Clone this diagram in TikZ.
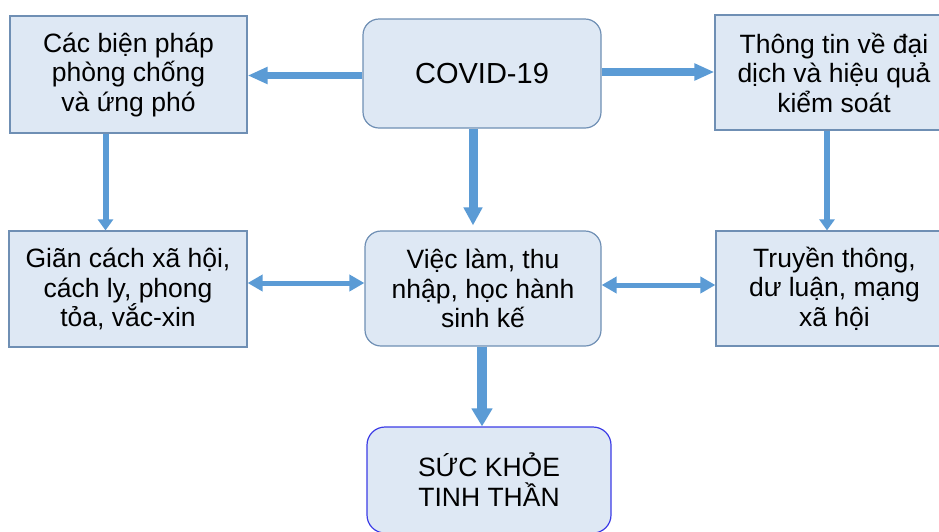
\documentclass[tikz,border=0pt]{standalone}
\usepackage{fontspec}
\setmainfont{Liberation Sans}
\usetikzlibrary{arrows.meta}
\definecolor{boxfill}{HTML}{DEE8F4}
\definecolor{boxline}{HTML}{6F8FB4}
\definecolor{arrowblue}{HTML}{5B9BD5}
\definecolor{botline}{HTML}{3C3CE6}
\begin{document}
\begin{tikzpicture}[x=1pt,y=-1pt,
  box/.style={draw=boxline,fill=boxfill,line width=1.2pt,inner sep=0pt,align=center,
    font=\fontsize{26.5}{29.5}\selectfont},
  rbox/.style={box,rounded corners=16pt},
  bigarrow/.style={draw=arrowblue,line width=7.5pt,-{Triangle[width=16pt,length=20pt]}},
  midarrow/.style={draw=arrowblue,line width=6pt,-{Triangle[width=15pt,length=11pt]}},
  twoarrow/.style={draw=arrowblue,line width=5pt,{Triangle[width=16pt,length=15pt]}-{Triangle[width=16pt,length=15pt]}}]
\useasboundingbox (0,0) rectangle (939,531);
\clip (0,0) rectangle (939,531);
\node[box,minimum width=237pt,minimum height=117pt] (tl) at (128.5,74.5)
  {Các biện pháp\\phòng chống\\và ứng phó};
\node[rbox,minimum width=238pt,minimum height=109pt,font=\fontsize{29}{34}\selectfont] (covid) at (482,73.5)
  {COVID-19};
\node[box,minimum width=238pt,minimum height=115pt] (tr) at (834,72.5)
  {Thông tin về đại\\dịch và hiệu quả\\kiểm soát};
\node[box,minimum width=238pt,minimum height=116pt] (ml) at (128,289)
  {Giãn cách xã hội,\\cách ly, phong\\tỏa, vắc-xin};
\node[rbox,minimum width=236pt,minimum height=115pt] (mc) at (483,288.5)
  {Việc làm, thu\\nhập, học hành\\sinh kế};
\node[box,minimum width=237pt,minimum height=115pt] (mr) at (834.5,288.5)
  {Truyền thông,\\dư luận, mạng\\xã hội};
\node[rbox,draw=botline,rounded corners=18pt,minimum width=244pt,minimum height=106pt,
  font=\fontsize{26.5}{30}\selectfont] (bot) at (489,480)
  {SỨC KHỎE\\TINH THẦN};
% arrows
\draw[bigarrow] ([yshift=-2pt]covid.west) -- ([yshift=-2pt]covid.west -| tl.east);
\draw[bigarrow] ([yshift=1.5pt]covid.east) -- ([yshift=1.5pt]covid.east -| tr.west);
\draw[bigarrow,-{Triangle[width=18pt,length=18pt]},line width=9pt,shorten >=5pt]
  ([xshift=-9pt]covid.south) -- ([xshift=-9pt]covid.south |- ml.north);
\draw[midarrow] ([xshift=-23pt]tl.south) -- ([xshift=-23pt]tl.south |- ml.north);
\draw[midarrow] ([xshift=-7pt]tr.south) -- ([xshift=-7pt]tr.south |- mr.north);
\draw[twoarrow] ([yshift=6pt]ml.east) -- ([yshift=6pt]ml.east -| mc.west);
\draw[twoarrow] ([yshift=3.5pt]mc.east) -- ([yshift=3.5pt]mc.east -| mr.west);
\draw[bigarrow,-{Triangle[width=20pt,length=18pt]},line width=10pt]
  ([xshift=-1pt]mc.south) -- ([xshift=-1pt]mc.south |- bot.north);
\end{tikzpicture}
\end{document}
